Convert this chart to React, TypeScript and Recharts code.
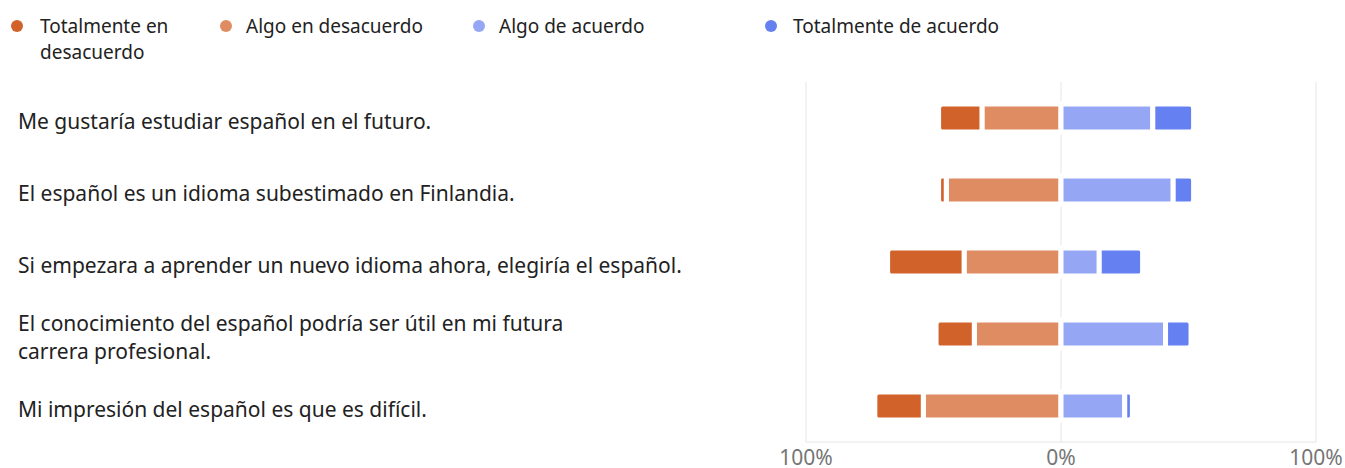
import { BarChart, Bar, XAxis, YAxis, CartesianGrid } from 'recharts'

const statements = [
  'Me gustaría estudiar español en el futuro.',
  'El español es un idioma subestimado en Finlandia.',
  'Si empezara a aprender un nuevo idioma ahora, elegiría el español.',
  'El conocimiento del español podría ser útil en mi futura carrera profesional.',
  'Mi impresión del español es que es difícil.',
]

// percentages per answer
const totalmenteDesacuerdo = [17, 3, 30, 15, 19]
const algoDesacuerdo = [31, 45, 38, 34, 54]
const algoAcuerdo = [36, 44, 15, 41, 25]
const totalmenteAcuerdo = [16, 8, 17, 10, 3]

const xTicks = [-100, 0, 100]

const legendItems = [
  { label: 'Totalmente en desacuerdo', color: '#D0622A', dot: 17, text: 40 },
  { label: 'Algo en desacuerdo', color: '#E08C63', dot: 226, text: 246 },
  { label: 'Algo de acuerdo', color: '#95A6F5', dot: 479, text: 499 },
  { label: 'Totalmente de acuerdo', color: '#6580F0', dot: 771, text: 793 },
]

// disagreement goes left of zero
const data = statements.map((name, i) => ({
  name,
  algoDes: -algoDesacuerdo[i],
  totDes: -totalmenteDesacuerdo[i],
  algoAc: algoAcuerdo[i],
  totAc: totalmenteAcuerdo[i],
}))

const FONT = "'Noto Sans', sans-serif"
const MAX_SINGLE_LINE = 700
const WRAP_WIDTH = 560

// only really long statements get wrapped
const wrapLabel = (text: string): string[] => {
  const ctx = document.createElement('canvas').getContext('2d')
  if (!ctx) return [text]
  ctx.font = `21px 'Noto Sans'`
  if (ctx.measureText(text).width <= MAX_SINGLE_LINE) return [text]
  const lines: string[] = []
  let line = ''
  for (const word of text.split(' ')) {
    const next = line ? `${line} ${word}` : word
    if (line && ctx.measureText(next).width > WRAP_WIDTH) {
      lines.push(line)
      line = word
    } else {
      line = next
    }
  }
  if (line) lines.push(line)
  return lines
}

const StatementTick = ({ y, payload }: any) => {
  const lines = wrapLabel(payload.value)
  const first = y + 10.5 - ((lines.length - 1) * 28) / 2
  return (
    <text x={18} y={first} fontSize={21} fontFamily={FONT} fill="#222222">
      {lines.map((l, i) => (
        <tspan key={i} x={18} dy={i === 0 ? 0 : 28}>
          {l}
        </tspan>
      ))}
    </text>
  )
}

const App = () => {
  return (
    <div style={{ position: 'absolute', left: 0, top: 0, width: 1345, height: 468, fontFamily: FONT }}>
      {legendItems.map((item) => (
        <div key={item.label}>
          <span
            style={{
              position: 'absolute',
              left: item.dot - 6,
              top: 20,
              width: 12,
              height: 12,
              borderRadius: '50%',
              background: item.color,
            }}
          />
          <span
            style={{
              position: 'absolute',
              left: item.text,
              top: 13,
              fontSize: 19,
              lineHeight: '26px',
              color: '#222222',
              width: item.dot === 17 ? 150 : 260,
            }}
          >
            {item.label}
          </span>
        </div>
      ))}
      <BarChart
        width={1345}
        height={468}
        data={data}
        layout="vertical"
        stackOffset="sign"
        barSize={28}
        margin={{ top: 82, right: 29, bottom: 0, left: 0 }}
      >
        <CartesianGrid horizontal={false} stroke="#e6e6e6" />
        <XAxis
          type="number"
          domain={[-100, 100]}
          ticks={xTicks}
          tickFormatter={(v: number) => `${Math.abs(v)}%`}
          tickLine={false}
          axisLine={{ stroke: '#e6e6e6' }}
          tickMargin={2}
          height={26}
          tick={{ fontSize: 21, fill: '#757575', fontFamily: FONT }}
        />
        <YAxis type="category" dataKey="name" width={806} axisLine={false} tickLine={false} tick={<StatementTick />} />
        <Bar dataKey="algoDes" stackId="a" fill="#E08C63" stroke="#fff" strokeWidth={5} isAnimationActive={false} />
        <Bar dataKey="totDes" stackId="a" fill="#D0622A" stroke="#fff" strokeWidth={5} radius={[0, 4, 4, 0]} isAnimationActive={false} />
        <Bar dataKey="algoAc" stackId="a" fill="#95A6F5" stroke="#fff" strokeWidth={5} isAnimationActive={false} />
        <Bar dataKey="totAc" stackId="a" fill="#6580F0" stroke="#fff" strokeWidth={5} radius={[0, 4, 4, 0]} isAnimationActive={false} />
      </BarChart>
    </div>
  )
}

export default App
